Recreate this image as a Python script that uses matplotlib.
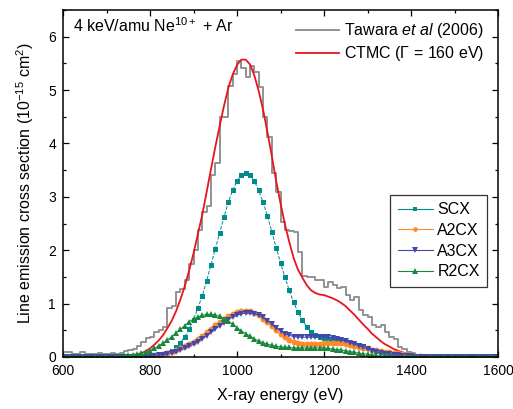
import numpy as np
import matplotlib
matplotlib.use("Agg")
import matplotlib.pyplot as plt
from matplotlib.ticker import MultipleLocator
from matplotlib.lines import Line2D

plt.rcParams['font.family'] = ['Liberation Sans', 'DejaVu Sans']
plt.rcParams['mathtext.fontset'] = 'custom'
plt.rcParams['mathtext.rm'] = 'Liberation Sans'
plt.rcParams['mathtext.it'] = 'Liberation Sans:italic'

# energies (eV), 10 eV grid
energy = np.arange(600, 1601, 10)

scx = [0]*19 + [0.005, 0.01, 0.02, 0.03, 0.05, 0.08, 0.12, 0.18, 0.27, 0.38, 0.52,
       0.70, 0.92, 1.14, 1.42, 1.72, 2.02, 2.32, 2.62, 2.90, 3.12,
       3.30, 3.41, 3.44, 3.41, 3.29, 3.12, 2.90, 2.64, 2.35, 2.05,
       1.77, 1.50, 1.25, 1.03, 0.84, 0.70, 0.57, 0.47, 0.41, 0.37,
       0.35, 0.33, 0.32, 0.31, 0.30, 0.28, 0.27, 0.25, 0.23, 0.20,
       0.17, 0.14, 0.11, 0.09, 0.07, 0.05, 0.03, 0.02, 0.01, 0.01] + [0]*21

a2cx = [0]*19 + [0.01, 0.02, 0.03, 0.04, 0.06, 0.08, 0.10, 0.13, 0.16, 0.20, 0.24,
        0.29, 0.34, 0.40, 0.46, 0.53, 0.60, 0.66, 0.72, 0.77, 0.81,
        0.84, 0.86, 0.87, 0.86, 0.83, 0.78, 0.72, 0.65, 0.58, 0.50,
        0.43, 0.37, 0.32, 0.28, 0.26, 0.25, 0.24, 0.24, 0.24, 0.25,
        0.26, 0.27, 0.27, 0.27, 0.26, 0.25, 0.23, 0.21, 0.19, 0.17,
        0.16, 0.14, 0.13, 0.11, 0.10, 0.09, 0.08, 0.07, 0.06, 0.04,
        0.03, 0.02, 0.01] + [0]*18

a3cx = [0]*19 + [0.005, 0.01, 0.02, 0.03, 0.04, 0.06, 0.08, 0.10, 0.13, 0.16, 0.20,
        0.24, 0.29, 0.34, 0.40, 0.46, 0.52, 0.58, 0.64, 0.70, 0.75,
        0.78, 0.81, 0.82, 0.82, 0.81, 0.78, 0.74, 0.68, 0.62, 0.55,
        0.49, 0.44, 0.41, 0.38, 0.37, 0.37, 0.37, 0.37, 0.38, 0.38,
        0.38, 0.37, 0.36, 0.34, 0.32, 0.30, 0.27, 0.24, 0.21, 0.18,
        0.15, 0.12, 0.10, 0.08, 0.06, 0.05, 0.04, 0.03, 0.02, 0.01,
        0.01] + [0]*20

r2cx = [0]*11 + [0.005, 0.01, 0.01, 0.02, 0.03, 0.04, 0.05, 0.07,
        0.09, 0.12, 0.16, 0.21, 0.26, 0.32, 0.38, 0.45, 0.52, 0.59, 0.66,
        0.71, 0.75, 0.78, 0.80, 0.80, 0.79, 0.76, 0.72, 0.67, 0.61,
        0.55, 0.49, 0.44, 0.39, 0.34, 0.30, 0.27, 0.24, 0.22, 0.20,
        0.19, 0.18, 0.18, 0.17, 0.17, 0.17, 0.17, 0.17, 0.17, 0.17,
        0.17, 0.16, 0.15, 0.14, 0.13, 0.12, 0.10, 0.09, 0.07, 0.06,
        0.05, 0.04, 0.03, 0.02, 0.01, 0.01] + [0]*25

ctmc = [0]*11 + [0.01, 0.01, 0.01, 0.02, 0.03, 0.04, 0.05, 0.07,
        0.11, 0.16, 0.23, 0.31, 0.41, 0.54, 0.68, 0.86, 1.08, 1.33, 1.62,
        1.94, 2.30, 2.66, 3.08, 3.51, 3.93, 4.32, 4.70, 5.04, 5.29,
        5.47, 5.57, 5.57, 5.48, 5.27, 4.98, 4.63, 4.21, 3.77, 3.30,
        2.88, 2.49, 2.16, 1.86, 1.64, 1.49, 1.35, 1.25, 1.20, 1.17,
        1.16, 1.13, 1.10, 1.06, 1.01, 0.95, 0.87, 0.79, 0.70, 0.61,
        0.53, 0.44, 0.37, 0.30, 0.24, 0.20, 0.15, 0.12, 0.09, 0.06,
        0.04, 0.02, 0.01] + [0]*18

# Tawara et al (2006) histogram, 10 eV bins from 600 to 1600
tawara = [0.10, 0.10, 0.06, 0.06, 0.09, 0.06, 0.05, 0.06, 0.08, 0.06,
          0.05, 0.07, 0.06, 0.08, 0.12, 0.13, 0.15, 0.20, 0.28, 0.35,
          0.38, 0.47, 0.50, 0.57, 0.92, 0.95, 1.22, 1.28, 1.45, 1.75,
          2.00, 2.38, 2.72, 2.82, 3.41, 3.64, 4.50, 4.50, 5.07, 5.30,
          5.55, 5.42, 5.25, 5.46, 5.33, 5.05, 4.50, 4.13, 3.45, 3.10,
          2.53, 2.38, 2.36, 2.35, 1.97, 1.52, 1.50, 1.50, 1.44, 1.44,
          1.31, 1.41, 1.35, 1.29, 1.31, 1.16, 1.07, 1.13, 0.88, 0.79,
          0.75, 0.60, 0.56, 0.60, 0.47, 0.38, 0.33, 0.19, 0.15, 0.10,
          0.07, 0.04, 0.03, 0.02, 0.01] + [0]*15
tawara_edges = np.arange(600, 1601, 10)

c_scx, c_a2, c_a3, c_r2 = '#008c8c', '#ff8a2a', '#4048b0', '#16883a'

fig = plt.figure(figsize=(5.13, 4.09), dpi=100)
ax = fig.add_axes([63/513, 1-357/409, (498-63)/513, (357-10)/409])

h_taw, = ax.step(tawara_edges, tawara + [tawara[-1]], where='post', color='#929292', lw=1.4)
h_ctmc, = ax.plot(energy, ctmc, color='#e8141e', lw=1.3)

ax.plot(energy, scx, color=c_scx, lw=0.7, ls='--', marker='s', ms=3.6, mew=0)
ax.plot(energy, a2cx, color=c_a2, lw=0.7, marker='o', ms=4.3, mew=0)
ax.plot(energy, a3cx, color=c_a3, lw=0.7, marker='v', ms=4.8, mew=0)
ax.plot(energy, r2cx, color=c_r2, lw=0.7, marker='^', ms=4.8, mew=0)

ax.set_xlim(600, 1600)
ax.set_ylim(0, 6.5)
ax.xaxis.set_major_locator(MultipleLocator(200))
ax.xaxis.set_minor_locator(MultipleLocator(100))
ax.yaxis.set_major_locator(MultipleLocator(1))
ax.yaxis.set_minor_locator(MultipleLocator(0.5))
ax.tick_params(which='both', direction='in', top=True, right=True, labelsize=10, width=0.9)
ax.tick_params(which='major', length=4.5, pad=5)
ax.tick_params(which='minor', length=2.5)
for s in ax.spines.values():
    s.set_linewidth(1.1)

ax.set_xlabel('X-ray energy (eV)', fontsize=11.5, labelpad=7)
ax.set_ylabel(r'Line emission cross section (10$^{-15}$ cm$^{2}$)', fontsize=11.5, labelpad=9)

ax.text(0.023, 0.955, r'4 keV/amu Ne$^{10+}$ + Ar', transform=ax.transAxes,
        fontsize=11.5, va='center', ha='left')

leg1 = ax.legend([h_taw, h_ctmc], [r'Tawara $\it{et\ al}$ (2006)', r'CTMC ($\Gamma$ = 160 eV)'],
                 loc='upper right', bbox_to_anchor=(0.99, 0.995), frameon=False,
                 fontsize=11.5, handlelength=2.7, handletextpad=0.3, labelspacing=0.25,
                 borderaxespad=0.2)
ax.add_artist(leg1)

leg_handles = [Line2D([], [], color=c_scx, lw=0.8, marker='s', ms=3.0, mew=0),
               Line2D([], [], color=c_a2, lw=0.8, marker='o', ms=3.4, mew=0),
               Line2D([], [], color=c_a3, lw=0.8, marker='v', ms=3.8, mew=0),
               Line2D([], [], color=c_r2, lw=0.8, marker='^', ms=3.8, mew=0)]
leg2 = ax.legend(leg_handles, ['SCX', 'A2CX', 'A3CX', 'R2CX'],
                 loc='upper right', bbox_to_anchor=((487-63)/435, (357-195)/347),
                 frameon=True, fancybox=False, edgecolor='black', fontsize=11.5,
                 handlelength=2.2, handletextpad=0.3, labelspacing=0.36,
                 borderpad=0.45, borderaxespad=0.0)
leg2.get_frame().set_linewidth(0.9)

fig.savefig('out.png', dpi=100)
